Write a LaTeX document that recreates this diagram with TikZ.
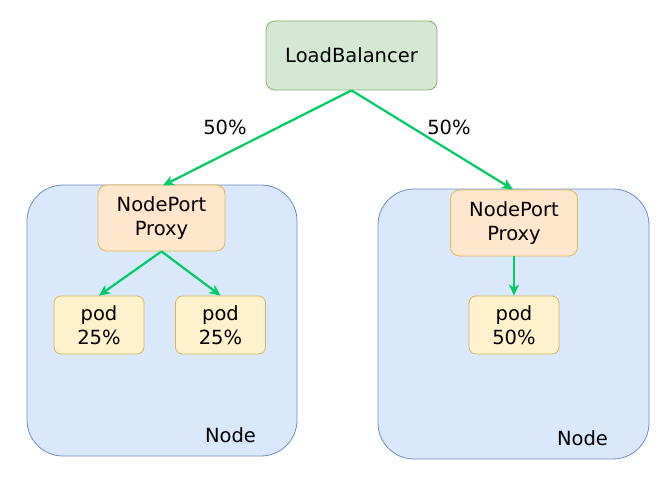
\documentclass[tikz,border=0pt]{standalone}
\usepackage{fontspec}
\setmainfont{DejaVu Sans}
\usetikzlibrary{arrows.meta}
\definecolor{lbfill}{HTML}{D5E8D4}
\definecolor{lbdraw}{HTML}{82B366}
\definecolor{pxfill}{HTML}{FFE6CC}
\definecolor{pxdraw}{HTML}{D79B00}
\definecolor{podfill}{HTML}{FFF2CC}
\definecolor{poddraw}{HTML}{D6B656}
\definecolor{hostfill}{HTML}{DAE8FC}
\definecolor{hostdraw}{HTML}{6C8EBF}
\definecolor{arr}{HTML}{00CC66}
\tikzset{
  x=1pt, y=-1pt,
  box/.style={draw, line width=0.8pt, rounded corners=9pt, inner sep=0pt, align=center,
    font=\fontsize{19.5}{24.5}\selectfont},
  lbbox/.style={box, fill=lbfill, draw=lbdraw, minimum width=171pt, minimum height=69pt},
  pxbox/.style={box, fill=pxfill, draw=pxdraw!70, minimum width=127pt, minimum height=66pt},
  podbox/.style={box, fill=podfill, draw=poddraw, rounded corners=7pt, minimum width=90pt, minimum height=58pt},
  hostbox/.style={draw=hostdraw, fill=hostfill, line width=0.8pt, rounded corners=36pt},
  lbl/.style={font=\fontsize{19.5}{24}\selectfont, inner sep=0pt},
  conn/.style={draw=arr, line width=2.2pt, -{Stealth[length=11pt,width=10pt,inset=3pt]}},
}
\begin{document}
\begin{tikzpicture}
\useasboundingbox (0,0) rectangle (666,484);
% host containers
\draw[hostbox] (27,185) rectangle (297,456);
\draw[hostbox] (378,189) rectangle (649,459);
\node[lbl] (nodeL) at (230.5,435) {Node};
\node[lbl] (nodeR) at (582.5,438) {Node};
% nodes
\node[lbbox] (lb) at (351.5,55.5) {LoadBalancer};
\node[pxbox] (pxL) at (161.5,218) {NodePort\\Proxy};
\node[pxbox] (pxR) at (514,223) {NodePort\\Proxy};
\node[podbox] (p1) at (99,325) {pod\\25\%};
\node[podbox] (p2) at (220.5,325) {pod\\25\%};
\node[podbox] (p3) at (514,325) {pod\\50\%};
% labels
\node[lbl] (l1) at (225,127) {50\%};
\node[lbl] (l2) at (449,127) {50\%};
% connectors
\draw[conn] (lb.south) -- (163,185.5);
\draw[conn] (lb.south) -- (513,189.5);
\draw[conn] (pxL.south) -- (p1.north);
\draw[conn] (pxL.south) -- (p2.north);
\draw[conn] (pxR.south) -- (p3.north);
\end{tikzpicture}
\end{document}
